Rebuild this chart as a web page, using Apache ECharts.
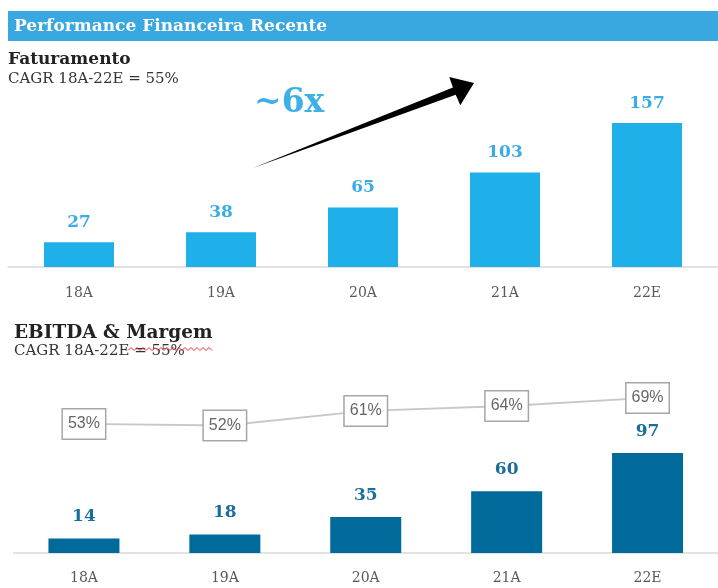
<!DOCTYPE html>
<html>
<head>
<meta charset="utf-8">
<script src="https://cdn.jsdelivr.net/npm/echarts@6/dist/echarts.min.js"></script>
<style>
  html, body { margin: 0; padding: 0; background: #fff; }
  #container { width: 718px; height: 588px; }
</style>
</head>
<body>
<div id="container"></div>
<script>
  // dados
  var anos = ['18A', '19A', '20A', '21A', '22E'];
  var faturamento = [27, 38, 65, 103, 157];
  var ebitda = [14, 18, 35, 60, 97];
  var margem = [53, 52, 61, 64, 69];

  var serif = '"DejaVu Serif", serif';
  var chart = echarts.init(document.getElementById('container'));

  // onda vermelha (corretor ortografico)
  var onda = [];
  for (var x = 128; x <= 213; x += 3) {
    onda.push([x, (Math.round((x - 128) / 3) % 2) ? 347.5 : 350.5]);
  }

  var option = {
    animation: false,
    grid: [
      {left: 8, width: 720, top: 123, bottom: 321},
      {left: 13.5, width: 715, top: 453, bottom: 35},
      {left: 13.5, width: 715, top: 380, height: 65}
    ],
    xAxis: [
      {
        gridIndex: 0, type: 'category', data: anos,
        axisTick: {show: false},
        axisLine: {lineStyle: {color: '#d9d9d9', width: 1.5}},
        axisLabel: {color: '#595959', fontFamily: serif, fontSize: 14, margin: 19}
      },
      {
        gridIndex: 1, type: 'category', data: anos,
        axisTick: {show: false},
        axisLine: {lineStyle: {color: '#d9d9d9', width: 1.5}},
        axisLabel: {color: '#595959', fontFamily: serif, fontSize: 14, margin: 18}
      },
      {
        gridIndex: 2, type: 'category', data: anos, show: false
      }
    ],
    yAxis: [
      {gridIndex: 0, type: 'value', min: 0, max: 157, show: false},
      {gridIndex: 1, type: 'value', min: 0, max: 97, show: false},
      {gridIndex: 2, type: 'value', min: 40, max: 80, show: false}
    ],
    series: [
      {
        type: 'bar', xAxisIndex: 0, yAxisIndex: 0,
        data: faturamento, barWidth: 70,
        itemStyle: {color: '#1fb0ea'},
        label: {
          show: true, position: 'top', distance: 11,
          color: '#3aace3', fontFamily: serif, fontWeight: 'bold', fontSize: 17
        }
      },
      {
        type: 'bar', xAxisIndex: 1, yAxisIndex: 1,
        data: ebitda, barWidth: 71,
        itemStyle: {color: '#006a9a'},
        label: {
          show: true, position: 'top', distance: 13,
          color: '#1b6e9c', fontFamily: serif, fontWeight: 'bold', fontSize: 17
        }
      },
      {
        type: 'line', xAxisIndex: 2, yAxisIndex: 2,
        data: margem, symbol: 'circle', symbolSize: 2, showSymbol: true, clip: false,
        itemStyle: {color: '#c8c8c8'},
        lineStyle: {color: '#c8c8c8', width: 2},
        label: {
          show: true, position: 'inside',
          formatter: '{c}%',
          color: '#666', fontFamily: '"Liberation Sans", sans-serif', fontSize: 16,
          backgroundColor: '#fff', borderColor: '#a6a6a6', borderWidth: 1.5,
          padding: [7, 5, 6, 5]
        },
        z: 5
      }
    ],
    graphic: [
      {type: 'rect', shape: {x: 8, y: 11, width: 710, height: 30}, style: {fill: '#3aa8e0'}},
      {type: 'text', left: 14, top: 18, style: {text: 'Performance Financeira Recente', fill: '#fff',
        font: 'bold 17px ' + serif}},
      {type: 'text', left: 8, top: 51, style: {text: 'Faturamento', fill: '#222', font: 'bold 17px ' + serif}},
      {type: 'text', left: 8, top: 72, style: {text: 'CAGR 18A-22E = 55%', fill: '#333', font: '15px ' + serif}},
      {type: 'text', left: 254, top: 87, style: {text: '~6x', fill: '#3fb0e6', font: 'bold 33px ' + serif}},
      {type: 'polygon', shape: {points: [[253, 168], [452.9, 87.4], [449.3, 77], [474, 83], [460.3, 105.2], [455.7, 94.8]]},
        style: {fill: '#000'}},
      {type: 'text', left: 14, top: 324, style: {text: 'EBITDA & Margem', fill: '#222', font: 'bold 18.5px ' + serif}},
      {type: 'text', left: 14, top: 344, style: {text: 'CAGR 18A-22E = 55%', fill: '#333', font: '15px ' + serif}},
      {type: 'polyline', shape: {points: onda}, style: {stroke: '#e83030', lineWidth: 1, fill: null}}
    ]
  };

  chart.setOption(option);
</script>
</body>
</html>
